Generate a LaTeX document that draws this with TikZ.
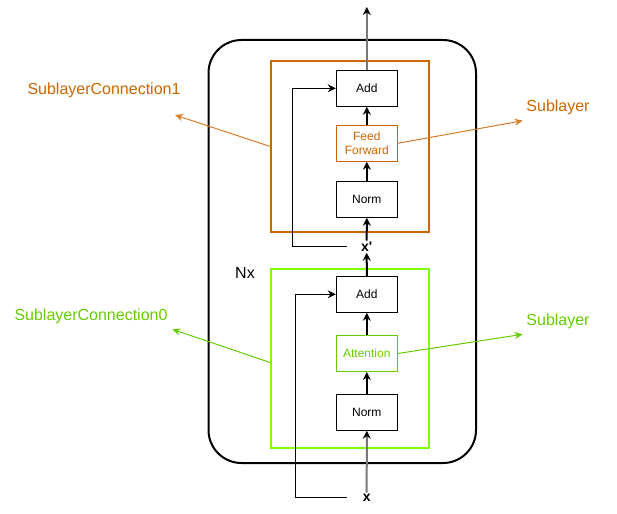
\documentclass[tikz,border=0pt]{standalone}
\usepackage{fontspec}
\setmainfont{Liberation Sans}
\newfontfamily\xfont{Liberation Sans}
\usetikzlibrary{arrows.meta}
\definecolor{orng}{RGB}{204,102,0}
\definecolor{orngln}{RGB}{214,125,40}
\definecolor{grnbox}{RGB}{128,255,0}
\definecolor{grn}{RGB}{102,204,0}
\definecolor{gry}{RGB}{120,120,120}
\tikzset{
  blk/.style={draw=black, line width=1pt, minimum width=61pt, minimum height=36pt, inner sep=0pt, align=center, font=\fontsize{12}{14}\selectfont},
  ffbox/.style={blk, draw=orng, text=orng},
  attbox/.style={blk, draw=grn, text=grn},
  flow/.style={line width=2pt, -{Stealth[length=8pt,width=8pt,color=black]}},
  thin/.style={line width=1pt, -{Stealth[length=8pt,width=8pt]}},
  lbl/.style={font=\fontsize{16}{18}\selectfont, inner sep=0pt},
  xlbl/.style={font=\xfont\fontsize{14}{16}\selectfont\bfseries, inner sep=1pt}
}
\begin{document}
\begin{tikzpicture}[x=1pt,y=-1pt]
\useasboundingbox (0,0) rectangle (617,513);
% outer block
\draw[line width=2pt, rounded corners=33pt] (208.5,40) rectangle (476,463);
% sublayer boxes
\node[draw=orng, line width=2pt, minimum width=158.6pt, minimum height=170.7pt, inner sep=0pt] (obox) at (350,146.3) {};
\node[draw=grnbox, line width=2pt, minimum width=158.6pt, minimum height=178.7pt, inner sep=0pt] (gbox) at (350,358.3) {};
% blocks
\node[blk] (add1) at (366.8,88.3) {Add};
\node[ffbox] (ff) at (366.8,143.3) {Feed\\Forward};
\node[blk] (norm1) at (366.8,199.3) {Norm};
\node[xlbl] (xp) at (366.7,246.7) {x'};
\node[blk] (add0) at (366.8,294.3) {Add};
\node[attbox] (att) at (366.8,353.5) {Attention};
\node[blk] (norm0) at (366.8,412.2) {Norm};
\node[xlbl] (x) at (366.7,497.5) {x};
\coordinate (top) at (366.8,7);
% labels
\node[lbl, text=orng] (sc1) at (104,90.7) {SublayerConnection1};
\node[lbl, text=orng] (sl1) at (558,107.3) {Sublayer};
\node[lbl, text=grn] (sc0) at (91,316.7) {SublayerConnection0};
\node[lbl, text=grn] (sl0) at (558,321) {Sublayer};
\node[lbl] (nx) at (245,273.3) {Nx};
% main flow
\draw[flow, draw=gry] (x.north) -- (norm0.south);
\draw[flow] (norm0.north) -- (att.south);
\draw[flow] (att.north) -- (add0.south);
\draw[flow] (add0.north) -- (xp.south);
\draw[flow] (xp.north) -- (norm1.south);
\draw[flow] (norm1.north) -- (ff.south);
\draw[flow] (ff.north) -- (add1.south);
\draw[line width=1.5pt, draw=gry, -{Stealth[length=8pt,width=8pt,color=black]}] (add1.north) -- (top);
% residual connections
\coordinate (xs) at (346.7,497.5);
\coordinate (xc) at (295.7,497.5);
\coordinate (xps) at (346.7,246.7);
\coordinate (xpc) at (292.3,246.7);
\draw[thin] (xs) -- (xc) |- (add0.west);
\draw[thin] (xps) -- (xpc) |- (add1.west);
% annotation arrows
\coordinate (sc1tip) at (175,115);
\coordinate (sc0tip) at (172.3,329.3);
\coordinate (sl1tip) at (522.7,120.7);
\coordinate (sl0tip) at (522.7,334.3);
\coordinate (gw) at (270.7,362.7);
\draw[line width=1pt, draw=orngln, -{Stealth[length=8pt,width=7pt]}] (obox.west) -- (sc1tip);
\draw[line width=1pt, draw=orngln, -{Stealth[length=8pt,width=7pt]}] (ff.east) -- (sl1tip);
\draw[line width=1pt, draw=grn, -{Stealth[length=8pt,width=7pt]}] (gw) -- (sc0tip);
\draw[line width=1pt, draw=grn, -{Stealth[length=8pt,width=7pt]}] (att.east) -- (sl0tip);
\end{tikzpicture}
\end{document}
